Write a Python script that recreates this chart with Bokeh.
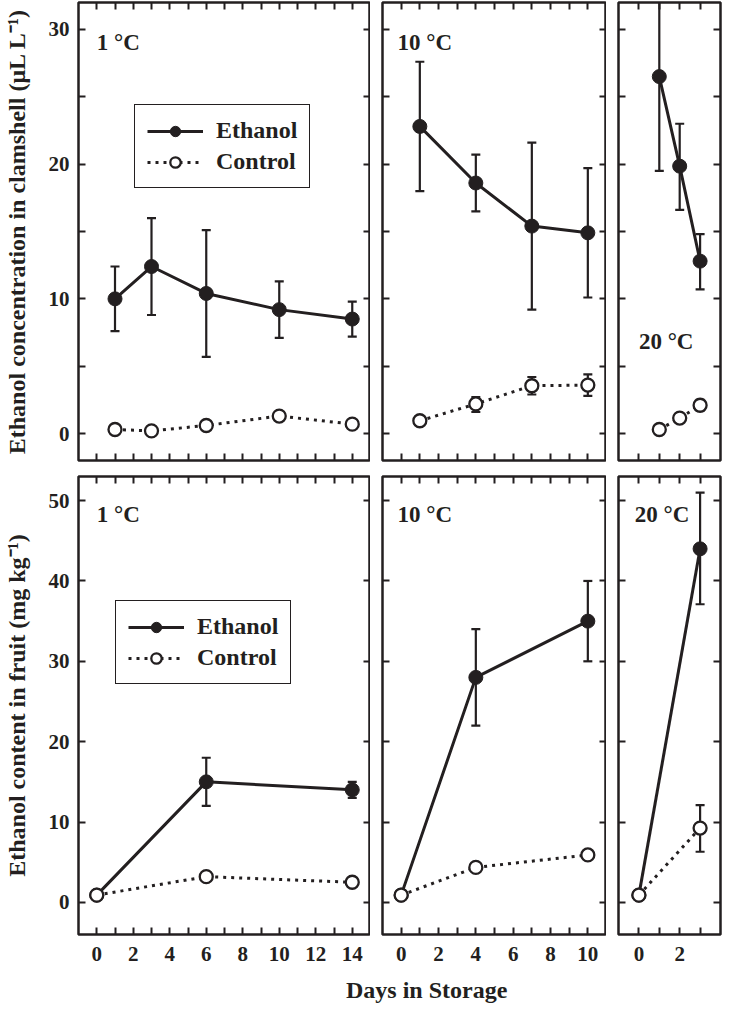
from bokeh.plotting import figure
from bokeh.layouts import column, row
from bokeh.models import (Range1d, LinearAxis, FixedTicker, CustomJSTickFormatter,
                          Label, Legend, LegendItem, Div)
from bokeh.embed import file_html
from bokeh.resources import INLINE

INK = "#231f20"
FONT = "Liberation Serif"

# ethanol in clamshell headspace (uL/L), mean and error bar ends
cl_days_1 = [1, 3, 6, 10, 14]
cl_eth_1 = [10.0, 12.4, 10.4, 9.2, 8.5]
cl_eth_1_lo = [7.6, 8.8, 5.7, 7.1, 7.2]
cl_eth_1_hi = [12.4, 16.0, 15.1, 11.3, 9.8]
cl_ctl_1 = [0.3, 0.2, 0.6, 1.3, 0.7]

cl_days_10 = [1, 4, 7, 10]
cl_eth_10 = [22.8, 18.6, 15.4, 14.9]
cl_eth_10_lo = [18.0, 16.5, 9.2, 10.1]
cl_eth_10_hi = [27.6, 20.7, 21.6, 19.7]
cl_ctl_10 = [0.95, 2.2, 3.55, 3.6]
cl_ctl_10_lo = [0.95, 1.6, 2.9, 2.8]
cl_ctl_10_hi = [0.95, 2.7, 4.2, 4.4]

cl_days_20 = [1, 2, 3]
cl_eth_20 = [26.5, 19.85, 12.8]
cl_eth_20_lo = [19.5, 16.6, 10.7]
cl_eth_20_hi = [33.5, 23.0, 14.8]
cl_ctl_20 = [0.3, 1.15, 2.1]
cl_ctl_20_lo = [0.3, 1.15, 1.7]
cl_ctl_20_hi = [0.3, 1.15, 2.5]

# ethanol content in fruit (mg/kg)
fr_days_1 = [0, 6, 14]
fr_eth_1 = [0.9, 15.0, 14.0]
fr_eth_1_lo = [0.9, 12.0, 13.0]
fr_eth_1_hi = [0.9, 18.0, 15.0]
fr_ctl_1 = [0.9, 3.2, 2.5]

fr_days_10 = [0, 4, 10]
fr_eth_10 = [0.9, 28.0, 35.0]
fr_eth_10_lo = [0.9, 22.0, 30.0]
fr_eth_10_hi = [0.9, 34.0, 40.0]
fr_ctl_10 = [0.9, 4.35, 5.9]

fr_days_20 = [0, 3]
fr_eth_20 = [0.9, 44.0]
fr_eth_20_lo = [0.9, 37.1]
fr_eth_20_hi = [0.9, 51.0]
fr_ctl_20 = [0.9, 9.25]
fr_ctl_20_lo = [0.9, 6.3]
fr_ctl_20_hi = [0.9, 12.1]

x_ticks_14 = [0, 2, 4, 6, 8, 10, 12, 14]
x_ticks_10 = [0, 2, 4, 6, 8, 10]
x_ticks_3 = [0, 2]
top_y_ticks = [0, 10, 20, 30]
bot_y_ticks = [0, 10, 20, 30, 40, 50]


def style_axis(ax, show, standoff=9):
    ax.axis_line_color = None
    ax.major_tick_in = 7
    ax.major_tick_out = 0
    ax.minor_tick_in = 7
    ax.minor_tick_out = 0
    ax.major_tick_line_color = INK
    ax.minor_tick_line_color = INK
    ax.major_tick_line_width = 2
    ax.minor_tick_line_width = 2
    if show:
        ax.major_label_text_font = FONT
        ax.major_label_text_font_size = "21px"
        ax.major_label_text_font_style = "bold"
        ax.major_label_text_color = INK
        ax.major_label_standoff = standoff
    else:
        ax.formatter = CustomJSTickFormatter(code="return ''")
        ax.major_label_standoff = 0
        ax.major_label_text_font_size = "1px"


def make_panel(xmax, x_major, x_minor, yr, y_major, y_minor, fw, fh, borders,
               ylabel=None, xlabels=False):
    p = figure(frame_width=fw, frame_height=fh,
               x_range=Range1d(-1, xmax), y_range=Range1d(*yr),
               x_axis_location=None, y_axis_location=None,
               toolbar_location=None, output_backend="svg",
               min_border_left=borders[0], min_border_right=borders[1],
               min_border_top=borders[2], min_border_bottom=borders[3])
    p.grid.visible = False
    p.outline_line_color = INK
    p.outline_line_width = 2.5
    p.background_fill_color = "white"
    p.border_fill_color = "white"
    for side in ("below", "above"):
        ax = LinearAxis(ticker=FixedTicker(ticks=x_major, minor_ticks=x_minor))
        style_axis(ax, side == "below" and xlabels, standoff=12)
        p.add_layout(ax, side)
    for side in ("left", "right"):
        ax = LinearAxis(ticker=FixedTicker(ticks=y_major, minor_ticks=y_minor))
        style_axis(ax, side == "left" and ylabel is not None)
        if side == "left" and ylabel:
            ax.axis_label = ylabel
            ax.axis_label_text_font = FONT
            ax.axis_label_text_font_size = "24px"
            ax.axis_label_text_font_style = "bold"
            ax.axis_label_text_color = INK
            ax.axis_label_standoff = 16
        p.add_layout(ax, side)
    return p


def errbars(p, days, lo, hi):
    p.segment(x0=days, y0=lo, x1=days, y1=hi, line_width=2.2, color=INK)
    p.scatter(days, hi, marker="dash", size=9, line_width=2.2, color=INK)
    p.scatter(days, lo, marker="dash", size=9, line_width=2.2, color=INK)


def draw(p, days, eth, eth_lo, eth_hi, ctl, ctl_lo=None, ctl_hi=None):
    errbars(p, days, eth_lo, eth_hi)
    eth_line = p.line(days, eth, line_width=3, color=INK)
    eth_pts = p.scatter(days, eth, size=14, fill_color=INK, line_color=INK)
    if ctl_lo is not None:
        errbars(p, days, ctl_lo, ctl_hi)
    ctl_line = p.line(days, ctl, line_width=3, line_dash="3 5", color=INK)
    ctl_pts = p.scatter(days, ctl, size=13, fill_color="white", line_color=INK, line_width=2.3)
    return eth_line, eth_pts, ctl_line, ctl_pts


def add_legend(p, rends, loc):
    eth_line, eth_pts, ctl_line, ctl_pts = rends
    leg = Legend(items=[LegendItem(label="Ethanol", renderers=[eth_line, eth_pts]),
                        LegendItem(label="Control", renderers=[ctl_line, ctl_pts])],
                 location=loc)
    leg.glyph_width = 56
    leg.glyph_height = 26
    leg.label_height = 26
    leg.label_standoff = 13
    leg.padding = 12
    leg.spacing = 4
    leg.label_text_font = FONT
    leg.label_text_font_size = "24px"
    leg.label_text_font_style = "bold"
    leg.label_text_color = INK
    leg.label_text_baseline = "middle"
    leg.border_line_color = INK
    leg.border_line_alpha = 1
    leg.border_line_width = 1.8
    leg.background_fill_color = "white"
    leg.background_fill_alpha = 1
    p.add_layout(leg, "center")


def panel_label(p, x, y, text):
    p.add_layout(Label(x=x, y=y, text=text, text_font=FONT, text_font_size="23px",
                       text_font_style="bold", text_color=INK,
                       text_align="left", text_baseline="middle"))


TOP_Y = (-2, 32)
BOT_Y = (-4, 53)
FH = 458

# top row: clamshell
t1 = make_panel(15, list(range(15)), [], TOP_Y, top_y_ticks, [5, 15, 25], 292, FH,
                (78, 0, 2, 8), ylabel="Ethanol concentration in clamshell (\u03bcL L\u207b\u00b9)")
r = draw(t1, cl_days_1, cl_eth_1, cl_eth_1_lo, cl_eth_1_hi, cl_ctl_1)
add_legend(t1, r, (56, 272))
panel_label(t1, 0, 29.0, "1 \u00b0C")

t2 = make_panel(11, list(range(11)), [], TOP_Y, top_y_ticks, [5, 15, 25], 224, FH, (12, 0, 2, 8))
draw(t2, cl_days_10, cl_eth_10, cl_eth_10_lo, cl_eth_10_hi, cl_ctl_10, cl_ctl_10_lo, cl_ctl_10_hi)
panel_label(t2, -0.2, 29.0, "10 \u00b0C")

t3 = make_panel(4, [0, 1, 2, 3], [], TOP_Y, top_y_ticks, [5, 15, 25], 102, FH, (12, 2, 2, 8))
draw(t3, cl_days_20, cl_eth_20, cl_eth_20_lo, cl_eth_20_hi, cl_ctl_20, cl_ctl_20_lo, cl_ctl_20_hi)
panel_label(t3, 0, 6.8, "20 \u00b0C")

# bottom row: fruit
b1 = make_panel(15, x_ticks_14, [1, 3, 5, 7, 9, 11, 13], BOT_Y, bot_y_ticks, [], 292, FH,
                (78, 0, 8, 40), ylabel="Ethanol content in fruit (mg kg\u207b\u00b9)", xlabels=True)
r = draw(b1, fr_days_1, fr_eth_1, fr_eth_1_lo, fr_eth_1_hi, fr_ctl_1)
add_legend(b1, r, (37, 250))
panel_label(b1, 0, 48.3, "1 \u00b0C")

b2 = make_panel(11, x_ticks_10, [1, 3, 5, 7, 9], BOT_Y, bot_y_ticks, [], 224, FH,
                (12, 0, 8, 40), xlabels=True)
draw(b2, fr_days_10, fr_eth_10, fr_eth_10_lo, fr_eth_10_hi, fr_ctl_10)
panel_label(b2, -0.2, 48.3, "10 \u00b0C")

b3 = make_panel(4, x_ticks_3, [1, 3], BOT_Y, bot_y_ticks, [], 102, FH,
                (12, 2, 8, 40), xlabels=True)
draw(b3, fr_days_20, fr_eth_20, fr_eth_20_lo, fr_eth_20_hi, fr_ctl_20, fr_ctl_20_lo, fr_ctl_20_hi)
panel_label(b3, -0.2, 48.3, "20 \u00b0C")

xlabel = Div(text="Days in Storage", width=376, height=32, margin=(0, 0, 0, 346),
             styles={"font-family": FONT, "font-weight": "bold", "font-size": "24px",
                     "line-height": "32px", "color": INK, "white-space": "nowrap"})

layout = column(row(t1, t2, t3), row(b1, b2, b3), xlabel)
open("out.html", "w").write(file_html(layout, INLINE))
